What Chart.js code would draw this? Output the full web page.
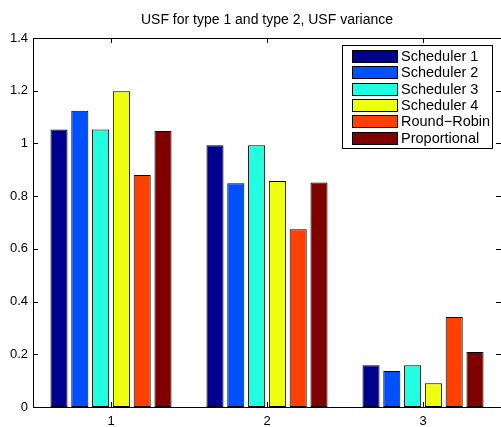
<!DOCTYPE html>
<html>
<head>
<meta charset="utf-8">
<script src="https://cdn.jsdelivr.net/npm/chart.js@4"></script>
<style>
  body { margin: 0; background: #fff; }
  canvas { display: block; }
</style>
</head>
<body>
<canvas id="grafica" width="501" height="427"></canvas>
<script>
/* Datos */
const categorias = ["1", "2", "3"];
const nombres = ["Scheduler 1", "Scheduler 2", "Scheduler 3", "Scheduler 4", "Round\u2212Robin", "Proportional"];
const scheduler1 = [1.053, 0.993, 0.158];
const scheduler2 = [1.124, 0.849, 0.137];
const scheduler3 = [1.053, 0.993, 0.158];
const scheduler4 = [1.198, 0.857, 0.090];
const roundRobin = [0.880, 0.674, 0.341];
const proporcional = [1.047, 0.852, 0.209];
const yTicks = [0, 0.2, 0.4, 0.6, 0.8, 1, 1.2, 1.4];
const titulo = "USF for type 1 and type 2, USF variance";

const colores = ["#00008f", "#0050ff", "#20ffdf", "#efff10", "#ff4000", "#800000"];
const series = [scheduler1, scheduler2, scheduler3, scheduler4, roundRobin, proporcional];
const fuente = "'Liberation Sans', Arial, Helvetica, sans-serif";

/* Caja, marcas, titulo y leyenda estilo MATLAB */
const estiloMatlab = {
    id: "estiloMatlab",
    afterDraw(chart) {
        const ctx = chart.ctx;
        const a = chart.chartArea;
        const x = chart.scales.x;
        const y = chart.scales.y;
        ctx.save();
        ctx.strokeStyle = "#000";
        ctx.lineWidth = 1;

        // caja
        ctx.strokeRect(Math.round(a.left) + 0.5, Math.round(a.top) + 0.5,
            Math.round(a.right - a.left), Math.round(a.bottom - a.top));

        // marcas hacia dentro
        const len = 5;
        ctx.beginPath();
        yTicks.forEach(v => {
            const py = Math.round(y.getPixelForValue(v)) + 0.5;
            ctx.moveTo(a.left, py); ctx.lineTo(a.left + len, py);
            ctx.moveTo(a.right, py); ctx.lineTo(a.right - len, py);
        });
        categorias.forEach((c, i) => {
            const px = Math.round(x.getPixelForValue(i)) + 0.5;
            ctx.moveTo(px, a.bottom); ctx.lineTo(px, a.bottom - len);
            ctx.moveTo(px, a.top); ctx.lineTo(px, a.top + len);
        });
        ctx.stroke();

        // titulo
        ctx.fillStyle = "#000";
        ctx.font = "14px " + fuente;
        ctx.textAlign = "center";
        ctx.textBaseline = "middle";
        ctx.fillText(titulo, (a.left + a.right) / 2, 20);

        // leyenda
        const lx = 342, ly = 45, lw = 150, lh = 103;
        ctx.fillStyle = "#fff";
        ctx.fillRect(lx, ly, lw, lh);
        ctx.strokeRect(lx + 0.5, ly + 0.5, lw, lh);
        ctx.textAlign = "left";
        ctx.font = "14.5px " + fuente;
        chart.data.datasets.forEach((ds, i) => {
            const cy = 56 + i * 16.3;
            ctx.fillStyle = ds.backgroundColor;
            ctx.fillRect(352, Math.round(cy - 6), 45, 12);
            ctx.strokeRect(352.5, Math.round(cy - 6) + 0.5, 45, 12);
            ctx.fillStyle = "#000";
            ctx.fillText(ds.label, 401, cy + 1);
        });
        ctx.restore();
    }
};

new Chart(document.getElementById("grafica").getContext("2d"), {
    type: "bar",
    data: {
        labels: categorias,
        datasets: series.map((s, i) => ({
            label: nombres[i],
            data: s,
            backgroundColor: colores[i],
            borderColor: "#000",
            borderWidth: 1,
            borderSkipped: false,
            categoryPercentage: 0.8,
            barPercentage: 0.82
        }))
    },
    options: {
        responsive: false,
        animation: false,
        devicePixelRatio: 1,
        layout: { padding: { top: 38, right: 0, bottom: 0, left: 0 } },
        plugins: {
            legend: { display: false },
            title: { display: false },
            tooltip: { enabled: false }
        },
        scales: {
            x: {
                grid: { display: false, drawTicks: false, tickLength: 0 },
                border: { display: false },
                ticks: { color: "#000", font: { family: fuente, size: 13 }, padding: 7 },
                afterFit(scale) { scale.height = 20; }
            },
            y: {
                min: 0,
                max: 1.4,
                grid: { display: false, drawTicks: false, tickLength: 0 },
                border: { display: false },
                afterBuildTicks(scale) { scale.ticks = yTicks.map(v => ({ value: v })); },
                ticks: {
                    color: "#000",
                    font: { family: fuente, size: 13 },
                    padding: 5,
                    callback: v => String(Math.round(v * 10) / 10)
                },
                afterFit(scale) { scale.width = 33; }
            }
        }
    },
    plugins: [estiloMatlab]
});
</script>
</body>
</html>
